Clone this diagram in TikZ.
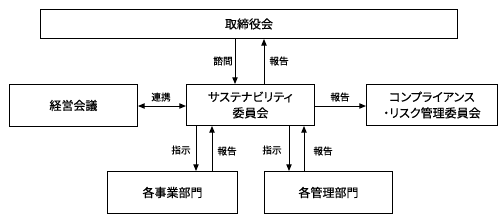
\documentclass[tikz,border=0pt]{standalone}
\usepackage{fontspec}
\newfontfamily\cjk[FakeBold=0.35,RawFeature=+palt]{Noto Sans CJK JP}
\usetikzlibrary{arrows.meta}
\begin{document}
\begin{tikzpicture}[x=0.75pt,y=-0.75pt,
  box/.style={draw,line width=0.7pt,inner sep=0pt,font=\cjk\fontsize{9}{12}\selectfont,align=center},
  lbl/.style={font=\cjk\fontsize{7.2}{8}\selectfont,inner sep=1pt},
  arr/.style={line width=0.7pt,-{Triangle[length=5pt,width=4pt]}},
  darr/.style={line width=0.7pt,{Triangle[length=5pt,width=4pt]}-{Triangle[length=5pt,width=4pt]}}]
\useasboundingbox (0,0) rectangle (503,219);
\node[box,minimum width=417*0.75pt,minimum height=29*0.75pt,anchor=north west] (top) at (40,9) {取締役会};
\node[box,minimum width=128*0.75pt,minimum height=42*0.75pt,anchor=north west] (left) at (9,84) {経営会議};
\node[box,minimum width=128*0.75pt,minimum height=41*0.75pt,anchor=north west] (mid) at (186,84) {サステナビリティ\\委員会};
\node[box,minimum width=131*0.75pt,minimum height=41*0.75pt,anchor=north west] (right) at (366,84) {コンプライアンス\\・リスク管理委員会};
\node[box,minimum width=130*0.75pt,minimum height=42*0.75pt,anchor=north west] (bl) at (107,171) {各事業部門};
\node[box,minimum width=128*0.75pt,minimum height=42*0.75pt,anchor=north west] (br) at (264,171) {各管理部門};
% top arrows
\draw[arr] (top.south -| 235,0) -- (mid.north -| 235,0);
\draw[arr] (mid.north -| 264,0) -- (top.south -| 264,0);
\node[lbl] (l1) at (223,61) {諮問};
\node[lbl] (l2) at (279,61) {報告};
% horizontal
\draw[darr] (left.east |- 0,106) -- (mid.west |- 0,106);
\draw[arr] (mid.east |- 0,106) -- (right.west |- 0,106);
\node[lbl] (l3) at (161,97) {連携};
\node[lbl] (l4) at (340,97) {報告};
% bottom arrows
\draw[arr] (mid.south -| 196,0) -- (bl.north -| 196,0);
\draw[arr] (bl.north -| 212,0) -- (mid.south -| 212,0);
\draw[arr] (mid.south -| 289,0) -- (br.north -| 289,0);
\draw[arr] (br.north -| 304,0) -- (mid.south -| 304,0);
\node[lbl] (l5) at (181,150) {指示};
\node[lbl] (l6) at (227,151) {報告};
\node[lbl] (l7) at (272,150) {指示};
\node[lbl] (l8) at (323,151) {報告};
\end{tikzpicture}
\end{document}
